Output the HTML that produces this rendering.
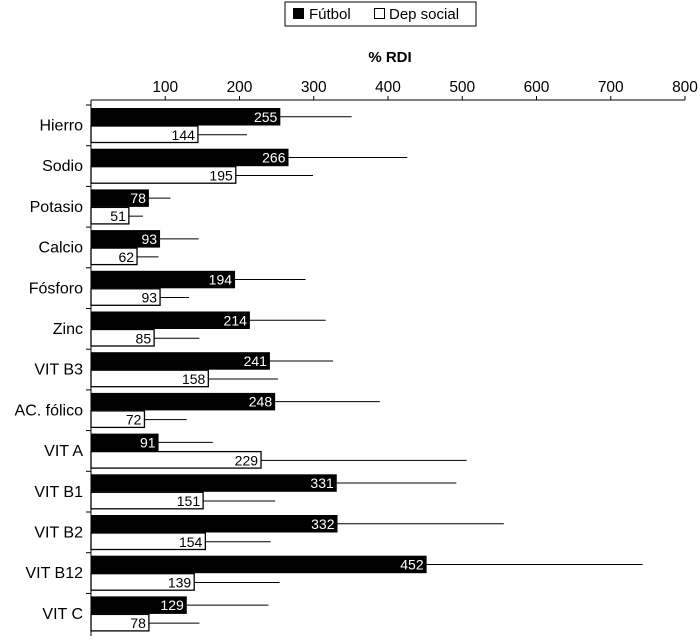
<!DOCTYPE html>
<html><head><meta charset="utf-8"><style>
body{margin:0;background:#fff;}
svg{font-family:"Liberation Sans",sans-serif;}
</style></head><body>
<svg id="chart" width="700" height="636" viewBox="0 0 700 636" xmlns="http://www.w3.org/2000/svg">
<g>
<rect x="285" y="2" width="191" height="24" fill="#fff" stroke="#000" stroke-width="1"/>
<rect x="293" y="8" width="11" height="11" fill="#000"/>
<text x="309" y="19" font-size="15">Fútbol</text>
<rect x="374.5" y="8.5" width="10" height="10" fill="#fff" stroke="#000"/>
<text x="389" y="19" font-size="15">Dep social</text>
</g>
<text x="390" y="62" font-size="15" font-weight="bold" text-anchor="middle">% RDI</text>
<g id="axes"></g>
<g id="bars"></g>
</svg>
<script>
const categories=["Hierro","Sodio","Potasio","Calcio","Fósforo","Zinc","VIT B3","AC. fólico","VIT A","VIT B1","VIT B2","VIT B12","VIT C"];
const futbol=[255,266,78,93,194,214,241,248,91,331,332,452,129];
const depSocial=[144,195,51,62,93,85,158,72,229,151,154,139,78];
const futbolErr=[351,426,107,145,289,316,326,389,164,492,556,743,239];
const depSocialErr=[210,299,70,91,132,146,252,129,506,248,242,254,146];
const ticks=[100,200,300,400,500,600,700,800];

const NS="http://www.w3.org/2000/svg";
const x0=91,x1=685,axisY=100,rowTop=107,step=40.7,barH=17.5;
const xs=v=>x0+(x1-x0)*v/800;
function mk(tag,attrs,parent){const e=document.createElementNS(NS,tag);for(const k in attrs)e.setAttribute(k,attrs[k]);parent.appendChild(e);return e;}
const axes=document.getElementById('axes'),bars=document.getElementById('bars');
let l=mk('line',{x1:x0,y1:axisY,x2:x1,y2:axisY,stroke:'#000'},axes);


l=mk('line',{x1:x0,y1:axisY,x2:x0,y2:636,stroke:'#000'},axes);


ticks.forEach(t=>{
 const tk=mk('line',{x1:xs(t),y1:axisY-4,x2:xs(t),y2:axisY,stroke:'#000'},axes);
 
 
 const tx=mk('text',{x:xs(t),y:axisY-8,'font-size':15.5,'text-anchor':'middle'},axes);
 tx.textContent=t;
 
 
});
categories.forEach((c,i)=>{
 const top=rowTop+i*step;
 const tk=mk('line',{x1:x0-5,y1:top-2,x2:x0,y2:top-2,stroke:'#000'},axes);
 
 
 const lab=mk('text',{x:83,y:top+barH+6,'font-size':16,'text-anchor':'end'},axes);
 lab.textContent=c;
 
 
 const yb=top+1;
 const e1=mk('line',{x1:xs(futbol[i]),y1:yb+barH/2,x2:xs(futbolErr[i]),y2:yb+barH/2,stroke:'#000'},bars);
 
 
 const b1=mk('rect',{x:x0,y:yb,width:xs(futbol[i])-x0,height:barH,fill:'#000'},bars);
 
 
 const t1=mk('text',{x:xs(futbol[i])-3,y:yb+barH/2+5,'font-size':14,fill:'#fff','text-anchor':'end'},bars);
 t1.textContent=futbol[i];
 
 
 const yw=yb+barH+0.5;
 const e2=mk('line',{x1:xs(depSocial[i]),y1:yw+barH/2,x2:xs(depSocialErr[i]),y2:yw+barH/2,stroke:'#000'},bars);
 
 
 const b2=mk('rect',{x:x0,y:yw,width:xs(depSocial[i])-x0,height:barH-1,fill:'#fff',stroke:'#000','stroke-width':1.3},bars);
 
 
 const t2=mk('text',{x:xs(depSocial[i])-3,y:yw+barH/2+5,'font-size':14,fill:'#000','text-anchor':'end'},bars);
 t2.textContent=depSocial[i];
 
 
});
</script>
</body></html>
